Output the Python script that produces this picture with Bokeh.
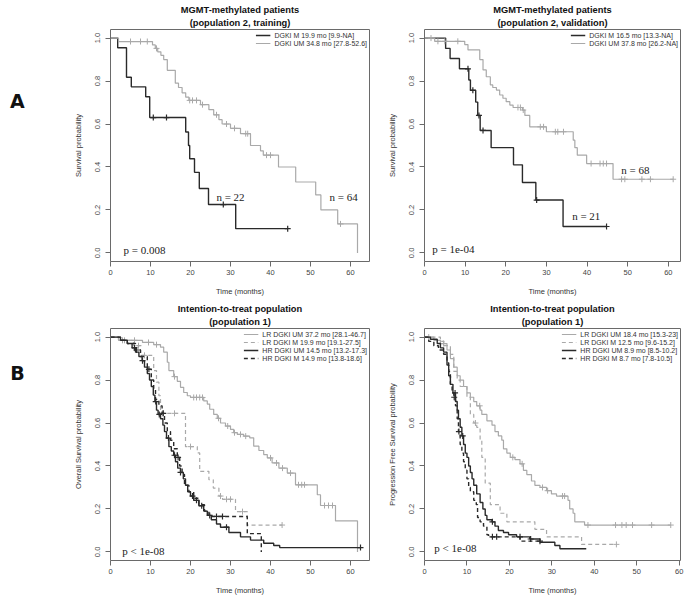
import numpy as np
from bokeh.plotting import figure
from bokeh.models import Range1d, FixedTicker, PrintfTickFormatter, Legend, LegendItem, Title
from bokeh.layouts import column, row
from bokeh.embed import file_html
from bokeh.resources import INLINE
from bokeh.core.properties import value

# ---------------- data ----------------
x_ticks = [0, 10, 20, 30, 40, 50, 60]
y_ticks = [0.0, 0.2, 0.4, 0.6, 0.8, 1.0]

# Panel A, left: population 2, training
a1_m_times = [1.8, 4.0, 5.2, 8.8, 9.8, 18.8, 19.5, 19.8, 21.0, 22.2, 24.5, 31.3]
a1_m_surv = [0.955, 0.818, 0.773, 0.727, 0.630, 0.563, 0.500, 0.438, 0.375, 0.300, 0.225, 0.113]
a1_m_cens = [10.7, 14.0, 28.2, 44.3]
a1_m_end = 44.3
a1_um_times = [2.0, 10.5, 11.2, 11.8, 12.6, 13.3, 14.2, 16.2, 17.0, 17.9, 18.8, 19.6, 22.5, 24.6,
               25.8, 27.1, 27.9, 30.0, 32.5, 35.0, 37.5, 38.2, 42.0, 46.3, 51.3, 52.6, 56.8, 61.75]
a1_um_surv = [0.984, 0.968, 0.952, 0.936, 0.92, 0.90, 0.85, 0.79, 0.77, 0.745, 0.725, 0.71, 0.69, 0.667,
              0.643, 0.62, 0.60, 0.58, 0.555, 0.50, 0.475, 0.455, 0.40, 0.33, 0.27, 0.20, 0.135, 0.0]
a1_um_cens = [5.0, 7.5, 9.2, 11.5, 19.8, 20.5, 21.5, 23.0, 26.5, 29.0, 31.0, 33.8, 34.3, 39.0, 40.0, 57.5]
a1_um_end = 61.75
a1_labels = ["DGKI M 19.9 mo [9.9-NA]", "DGKI UM 34.8 mo [27.8-52.6]"]

# Panel A, right: population 2, validation
a2_m_times = [5.2, 6.3, 8.6, 10.9, 11.3, 12.6, 13.1, 13.7, 16.4, 21.9, 24.1, 27.4, 34.1]
a2_m_surv = [0.952, 0.905, 0.857, 0.805, 0.757, 0.702, 0.64, 0.57, 0.49, 0.41, 0.328, 0.246, 0.123]
a2_m_cens = [10.7, 11.9, 13.4, 14.4, 27.6, 44.8]
a2_m_end = 44.8
a2_um_times = [2.5, 9.9, 10.7, 13.6, 14.4, 15.2, 16.2, 16.8, 17.7, 18.5, 19.3, 20.1, 21.0, 21.8,
               24.1, 24.7, 25.9, 30.0, 36.6, 37.0, 37.6, 39.9, 46.4]
a2_um_surv = [0.985, 0.97, 0.945, 0.90, 0.852, 0.82, 0.782, 0.77, 0.758, 0.735, 0.72, 0.704, 0.688, 0.677,
              0.665, 0.64, 0.587, 0.564, 0.525, 0.49, 0.455, 0.416, 0.343]
a2_um_cens = [1.6, 3.3, 5.0, 8.2, 23.0, 23.6, 24.3, 28.5, 29.3, 32.2, 32.8, 34.2, 41.0, 43.2, 44.0,
              44.8, 48.5, 49.3, 53.5, 55.6, 61.2]
a2_um_end = 61.2
a2_labels = ["DGKI M 16.5 mo [13.3-NA]", "DGKI UM 37.8 mo [26.2-NA]"]

# Panel B, left: overall survival, population 1
b1_lrum_times = [2.0, 8.0, 10.8, 12.5, 13.3, 14.2, 14.6, 15.8, 16.7, 17.5, 18.3, 19.2, 20.0, 23.3, 24.2,
                 24.8, 25.8, 26.7, 27.5, 28.75, 30.0, 30.8, 31.7, 33.3, 34.8, 35.8, 37.1, 38.3, 39.2,
                 40.4, 42.1, 44.2, 46.25, 51.7, 52.5, 56.25, 61.75]
b1_lrum_surv = [0.985, 0.975, 0.965, 0.953, 0.93, 0.883, 0.844, 0.816, 0.794, 0.766, 0.742, 0.727, 0.719,
                0.703, 0.688, 0.664, 0.64, 0.622, 0.60, 0.586, 0.57, 0.555, 0.547, 0.539, 0.531, 0.492,
                0.472, 0.453, 0.4375, 0.414, 0.39, 0.367, 0.3125, 0.266, 0.216, 0.144, 0.0]
b1_lrum_cens = [3.5, 6.0, 9.5, 11.5, 16.0, 20.8, 21.5, 22.3, 23.0, 27.0, 29.3, 31.0, 32.5, 33.8, 40.0,
                41.5, 43.0, 45.0, 47.0, 47.8, 48.5, 53.5, 54.5, 55.5]
b1_lrum_end = 61.75
b1_lrm_times = [2.0, 5.8, 7.5, 10.8, 11.5, 12.1, 12.5, 18.75, 21.7, 22.3, 24.6, 25.7, 27.1, 28.0, 31.25, 34.2]
b1_lrm_surv = [0.985, 0.96, 0.915, 0.844, 0.79, 0.727, 0.645, 0.49, 0.461, 0.375, 0.336, 0.297, 0.26,
               0.245, 0.1875, 0.125]
b1_lrm_cens = [3.0, 7.0, 8.5, 13.0, 16.0, 20.0, 27.5, 29.0, 30.0, 33.0, 42.9]
b1_lrm_end = 42.9
b1_hrum_times = [2.5, 4.2, 5.4, 6.25, 7.1, 7.9, 8.5, 9.2, 9.75, 10.2, 10.7, 11.1, 11.5, 11.9, 12.5, 13.1,
                 13.5, 14.0, 14.6, 15.2, 15.8, 16.25, 16.8, 17.5, 18.2, 18.75, 19.3, 20.0, 20.8, 22.1,
                 23.3, 24.2, 25.2, 26.5, 27.5, 29.6, 32.5, 35.0, 38.3, 40.8, 42.3]
b1_hrum_surv = [0.985, 0.97, 0.95, 0.93, 0.91, 0.89, 0.86, 0.83, 0.80, 0.77, 0.73, 0.70, 0.66, 0.64, 0.62,
                0.59, 0.56, 0.53, 0.49, 0.47, 0.45, 0.42, 0.39, 0.37, 0.34, 0.31, 0.28, 0.26, 0.24, 0.215,
                0.19, 0.17, 0.15, 0.13, 0.115, 0.09, 0.07, 0.055, 0.04, 0.03, 0.02]
b1_hrum_cens = [6.0, 8.0, 11.3, 12.2, 14.5, 16.0, 17.5, 20.5, 21.5, 22.8, 24.8, 29.0, 62.5]
b1_hrum_end = 62.5
b1_hrm_times = [2.5, 4.2, 6.25, 7.5, 9.2, 10.2, 10.8, 11.25, 12.1, 12.9, 13.5, 14.2, 15.0, 15.8, 16.7,
                17.3, 17.9, 18.5, 19.6, 20.8, 22.1, 23.5, 24.6, 34.2, 37.7]
b1_hrm_surv = [0.985, 0.97, 0.94, 0.91, 0.85, 0.80, 0.76, 0.71, 0.68, 0.645, 0.60, 0.56, 0.52, 0.48, 0.44,
               0.40, 0.36, 0.31, 0.28, 0.25, 0.22, 0.19, 0.165, 0.085, 0.0]
b1_hrm_cens = [6.5, 9.6, 13.2, 16.9, 26.5, 28.0]
b1_hrm_end = 37.7
b1_labels = ["LR DGKI UM 37.2 mo [28.1-46.7]", "LR DGKI M 19.9 mo [19.1-27.5]",
             "HR DGKI UM 14.5 mo [13.2-17.3]", "HR DGKI M 14.9 mo [13.8-18.6]"]

# Panel B, right: progression free survival, population 1
b2_lrum_times = [2.2, 3.75, 5.3, 6.1, 6.9, 7.7, 8.4, 9.2, 10.0, 10.8, 11.6, 12.3, 13.1, 13.5, 14.7, 15.9,
                 16.6, 17.4, 18.2, 18.6, 19.4, 20.2, 21.3, 22.5, 23.3, 24.1, 25.2, 26.0, 27.2, 28.75,
                 29.9, 31.1, 33.8, 34.2, 35.0, 35.4, 37.7]
b2_lrum_surv = [0.985, 0.97, 0.94, 0.90, 0.86, 0.82, 0.80, 0.77, 0.74, 0.72, 0.70, 0.68, 0.66, 0.64, 0.61,
                0.59, 0.56, 0.54, 0.52, 0.48, 0.46, 0.44, 0.43, 0.41, 0.38, 0.36, 0.33, 0.31, 0.30, 0.285,
                0.27, 0.26, 0.24, 0.20, 0.18, 0.14, 0.125]
b2_lrum_cens = [1.0, 4.5, 13.0, 20.8, 23.0, 27.8, 29.0, 32.5, 33.0, 38.5, 45.0, 46.5, 47.5, 49.0, 53.5, 58.0]
b2_lrum_end = 58.0
b2_lrm_times = [3.75, 4.6, 6.1, 6.9, 7.7, 8.4, 10.0, 10.8, 11.6, 12.3, 13.1, 13.5, 14.3, 15.5, 17.8,
                19.4, 26.0, 28.75, 37.0]
b2_lrm_surv = [0.98, 0.96, 0.92, 0.84, 0.80, 0.77, 0.72, 0.64, 0.60, 0.58, 0.52, 0.44, 0.32, 0.22, 0.18,
               0.14, 0.105, 0.07, 0.035]
b2_lrm_cens = [12.0, 45.2]
b2_lrm_end = 45.2
b2_hrum_times = [1.4, 3.0, 3.75, 4.5, 5.3, 5.7, 6.1, 6.7, 7.3, 7.7, 8.0, 8.4, 8.8, 9.2, 9.6, 10.0, 10.4,
                 10.8, 11.2, 11.6, 12.3, 13.1, 13.75, 14.3, 14.7, 15.9, 16.6, 17.4, 18.6, 19.8, 21.7,
                 24.8, 27.2, 30.7, 31.9]
b2_hrum_surv = [0.99, 0.97, 0.95, 0.93, 0.87, 0.82, 0.78, 0.74, 0.70, 0.66, 0.62, 0.58, 0.54, 0.50, 0.46,
                0.44, 0.40, 0.37, 0.34, 0.31, 0.27, 0.23, 0.20, 0.17, 0.15, 0.14, 0.12, 0.10, 0.09, 0.08,
                0.07, 0.06, 0.045, 0.03, 0.015]
b2_hrum_cens = [7.2, 9.0, 16.0, 22.5, 25.0]
b2_hrum_end = 38.1
b2_hrm_times = [1.0, 2.2, 3.3, 4.5, 5.3, 5.7, 6.1, 6.5, 6.9, 7.3, 7.7, 8.0, 8.4, 8.8, 9.2, 9.6, 10.0,
                10.4, 10.8, 11.6, 12.2, 12.5, 13.1, 13.9, 14.7, 15.1, 22.5]
b2_hrm_surv = [0.98, 0.96, 0.94, 0.92, 0.88, 0.84, 0.78, 0.74, 0.72, 0.68, 0.62, 0.56, 0.50, 0.46, 0.42,
               0.38, 0.34, 0.30, 0.28, 0.24, 0.22, 0.16, 0.14, 0.12, 0.08, 0.07, 0.05]
b2_hrm_cens = [7.0, 8.1, 16.0, 17.0, 27.2]
b2_hrm_end = 27.2
b2_labels = ["LR DGKI UM 18.4 mo [15.3-23]", "LR DGKI M 12.5 mo [9.6-15.2]",
             "HR DGKI UM 8.9 mo [8.5-10.2]", "HR DGKI M 8.7 mo [7.8-10.5]"]

panel_letters = ["A", "B"]

# ---------------- styling ----------------
SANS = "Liberation Sans"
SERIF = "Liberation Serif"
GRAY = "#a9a9a9"
DARK = "#2a2a2a"
FRAME = "#6a6a6a"
DASH = "4 3"
FH = 232


def km_xy(times, surv, end):
    x = [0.0] + list(times) + [end]
    y = [1.0] + list(surv) + [surv[-1]]
    return x, y


def censor_y(times, surv, cens):
    t = np.asarray(times, dtype=float)
    s = np.asarray(surv, dtype=float)
    idx = np.searchsorted(t, np.asarray(cens, dtype=float), side="right") - 1
    return np.where(idx >= 0, s[np.clip(idx, 0, None)], 1.0)


def make_fig(t1, t2, ylab, xmax, bl, br, bt, bb, fw):
    p = figure(frame_width=fw, frame_height=FH, min_border_left=bl, min_border_right=br,
               min_border_top=bt, min_border_bottom=bb, x_range=Range1d(0, xmax),
               y_range=Range1d(-0.04, 1.04), output_backend="svg", toolbar_location=None,
               title=None)
    p.grid.visible = False
    p.outline_line_color = FRAME
    p.outline_line_width = 1
    p.background_fill_color = "white"
    p.border_fill_color = "white"
    sub = Title(text=t2, align="center", text_font=SANS, text_font_size="9.3px",
                text_font_style="bold", text_color="#111111", standoff=3, offset=0)
    p.add_layout(sub, "above")
    main = Title(text=t1, align="center", text_font=SANS, text_font_size="9.3px",
                 text_font_style="bold", text_color="#111111", standoff=0, offset=0)
    p.add_layout(main, "above")
    for ax in (p.xaxis[0], p.yaxis[0]):
        ax.axis_line_color = None
        ax.major_tick_out = 5
        ax.major_tick_in = 0
        ax.minor_tick_line_color = None
        ax.major_tick_line_color = FRAME
        ax.major_label_text_font = SANS
        ax.major_label_text_font_size = "7.5px"
        ax.major_label_text_color = "#444444"
        ax.axis_label_text_font = SANS
        ax.axis_label_text_font_size = "7.5px"
        ax.axis_label_text_font_style = "normal"
        ax.axis_label_text_color = "#333333"
    p.xaxis.ticker = FixedTicker(ticks=x_ticks)
    p.yaxis.ticker = FixedTicker(ticks=y_ticks)
    p.yaxis.formatter = PrintfTickFormatter(format="%.1f")
    p.yaxis.major_label_orientation = "vertical"
    p.xaxis.axis_label = "Time (months)"
    p.yaxis.axis_label = ylab
    p.xaxis.major_label_standoff = 3
    p.xaxis.axis_label_standoff = 9
    p.yaxis.major_label_standoff = 5
    p.yaxis.axis_label_standoff = 10
    return p


def make_letter(letter, height, yfrac):
    p = figure(width=36, height=height, x_range=Range1d(0, 1), y_range=Range1d(0, 1),
               min_border=0, output_backend="svg", toolbar_location=None,
               x_axis_location=None, y_axis_location=None, title=None)
    p.grid.visible = False
    p.outline_line_color = None
    p.text([0.47], [yfrac], text=[letter], text_font=value("DejaVu Sans"), text_font_style="bold",
           text_font_size="19px", text_align="center", text_baseline="middle", text_color="#111111")
    return p


def add_curve(p, times, surv, cens, end, color, width, dash):
    x, y = km_xy(times, surv, end)
    r = p.step(x, y, mode="after", line_color=color, line_width=width, line_dash=dash)
    p.scatter(cens, censor_y(times, surv, cens), marker="cross", size=6, line_color=color,
              line_width=max(width - 0.2, 0.9))
    return r


def add_legend(p, renderers, labels):
    items = [LegendItem(label=lab, renderers=[r]) for lab, r in zip(labels, renderers)]
    lg = Legend(items=items, location="top_right", label_text_font=SANS, label_text_font_size="7px",
                label_text_color="#333333", glyph_width=15, glyph_height=8, label_height=8,
                label_standoff=4, spacing=0, padding=3, margin=2, border_line_color=None,
                background_fill_alpha=0)
    p.add_layout(lg)


def add_texts(p, xs, ys, texts):
    p.text(xs, ys, text=texts, text_font=value(SERIF), text_font_size="11px", text_align="center",
           text_baseline="middle", text_color="#222222")


TOP_H = 298
BOT_H = 302

# ---- Panel A left
pa1 = make_fig("MGMT-methylated patients", "(population 2, training)", "Survival probability",
               64.75, 74, 14, 29, TOP_H - 29 - FH, 259)
r1 = add_curve(pa1, a1_m_times, a1_m_surv, a1_m_cens, a1_m_end, DARK, 1.4, "solid")
r2 = add_curve(pa1, a1_um_times, a1_um_surv, a1_um_cens, a1_um_end, GRAY, 1.2, "solid")
add_legend(pa1, [r1, r2], a1_labels)
add_texts(pa1, [30.0, 58.3, 8.5], [0.26, 0.26, 0.014], ["n = 22", "n = 64", "p = 0.008"])

# ---- Panel A right
pa2 = make_fig("MGMT-methylated patients", "(population 2, validation)", "Survival probability",
               63.0, 41, 7, 29, TOP_H - 29 - FH, 256)
r1 = add_curve(pa2, a2_m_times, a2_m_surv, a2_m_cens, a2_m_end, DARK, 1.4, "solid")
r2 = add_curve(pa2, a2_um_times, a2_um_surv, a2_um_cens, a2_um_end, GRAY, 1.2, "solid")
add_legend(pa2, [r1, r2], a2_labels)
add_texts(pa2, [51.9, 39.8, 7.1], [0.388, 0.174, 0.019], ["n = 68", "n = 21", "p = 1e-04"])

# ---- Panel B left
pb1 = make_fig("Intention-to-treat population", "(population 1)", "Overall Survival probability",
               64.75, 74, 14, 30, BOT_H - 30 - FH, 259)
r1 = add_curve(pb1, b1_lrum_times, b1_lrum_surv, b1_lrum_cens, b1_lrum_end, GRAY, 1.2, "solid")
r2 = add_curve(pb1, b1_lrm_times, b1_lrm_surv, b1_lrm_cens, b1_lrm_end, GRAY, 1.2, DASH)
r3 = add_curve(pb1, b1_hrum_times, b1_hrum_surv, b1_hrum_cens, b1_hrum_end, DARK, 1.4, "solid")
r4 = add_curve(pb1, b1_hrm_times, b1_hrm_surv, b1_hrm_cens, b1_hrm_end, DARK, 1.4, DASH)
add_legend(pb1, [r1, r2, r3, r4], b1_labels)
add_texts(pb1, [8.2], [0.006], ["p < 1e-08"])

# ---- Panel B right
pb2 = make_fig("Intention-to-treat population", "(population 1)", "Progression Free Survival probability",
               60.3, 41, 7, 30, BOT_H - 30 - FH, 256)
r1 = add_curve(pb2, b2_lrum_times, b2_lrum_surv, b2_lrum_cens, b2_lrum_end, GRAY, 1.2, "solid")
r2 = add_curve(pb2, b2_lrm_times, b2_lrm_surv, b2_lrm_cens, b2_lrm_end, GRAY, 1.2, DASH)
r3 = add_curve(pb2, b2_hrum_times, b2_hrum_surv, b2_hrum_cens, b2_hrum_end, DARK, 1.4, "solid")
r4 = add_curve(pb2, b2_hrm_times, b2_hrm_surv, b2_hrm_cens, b2_hrm_end, DARK, 1.4, DASH)
add_legend(pb2, [r1, r2, r3, r4], b2_labels)
add_texts(pb2, [7.3], [0.016], ["p < 1e-08"])

la = make_letter(panel_letters[0], TOP_H, 1 - 92 / TOP_H)
lb = make_letter(panel_letters[1], BOT_H, 1 - 58 / BOT_H)

layout = column(row(la, pa1, pa2), row(lb, pb1, pb2))
open("out.html", "w").write(file_html(layout, INLINE))
